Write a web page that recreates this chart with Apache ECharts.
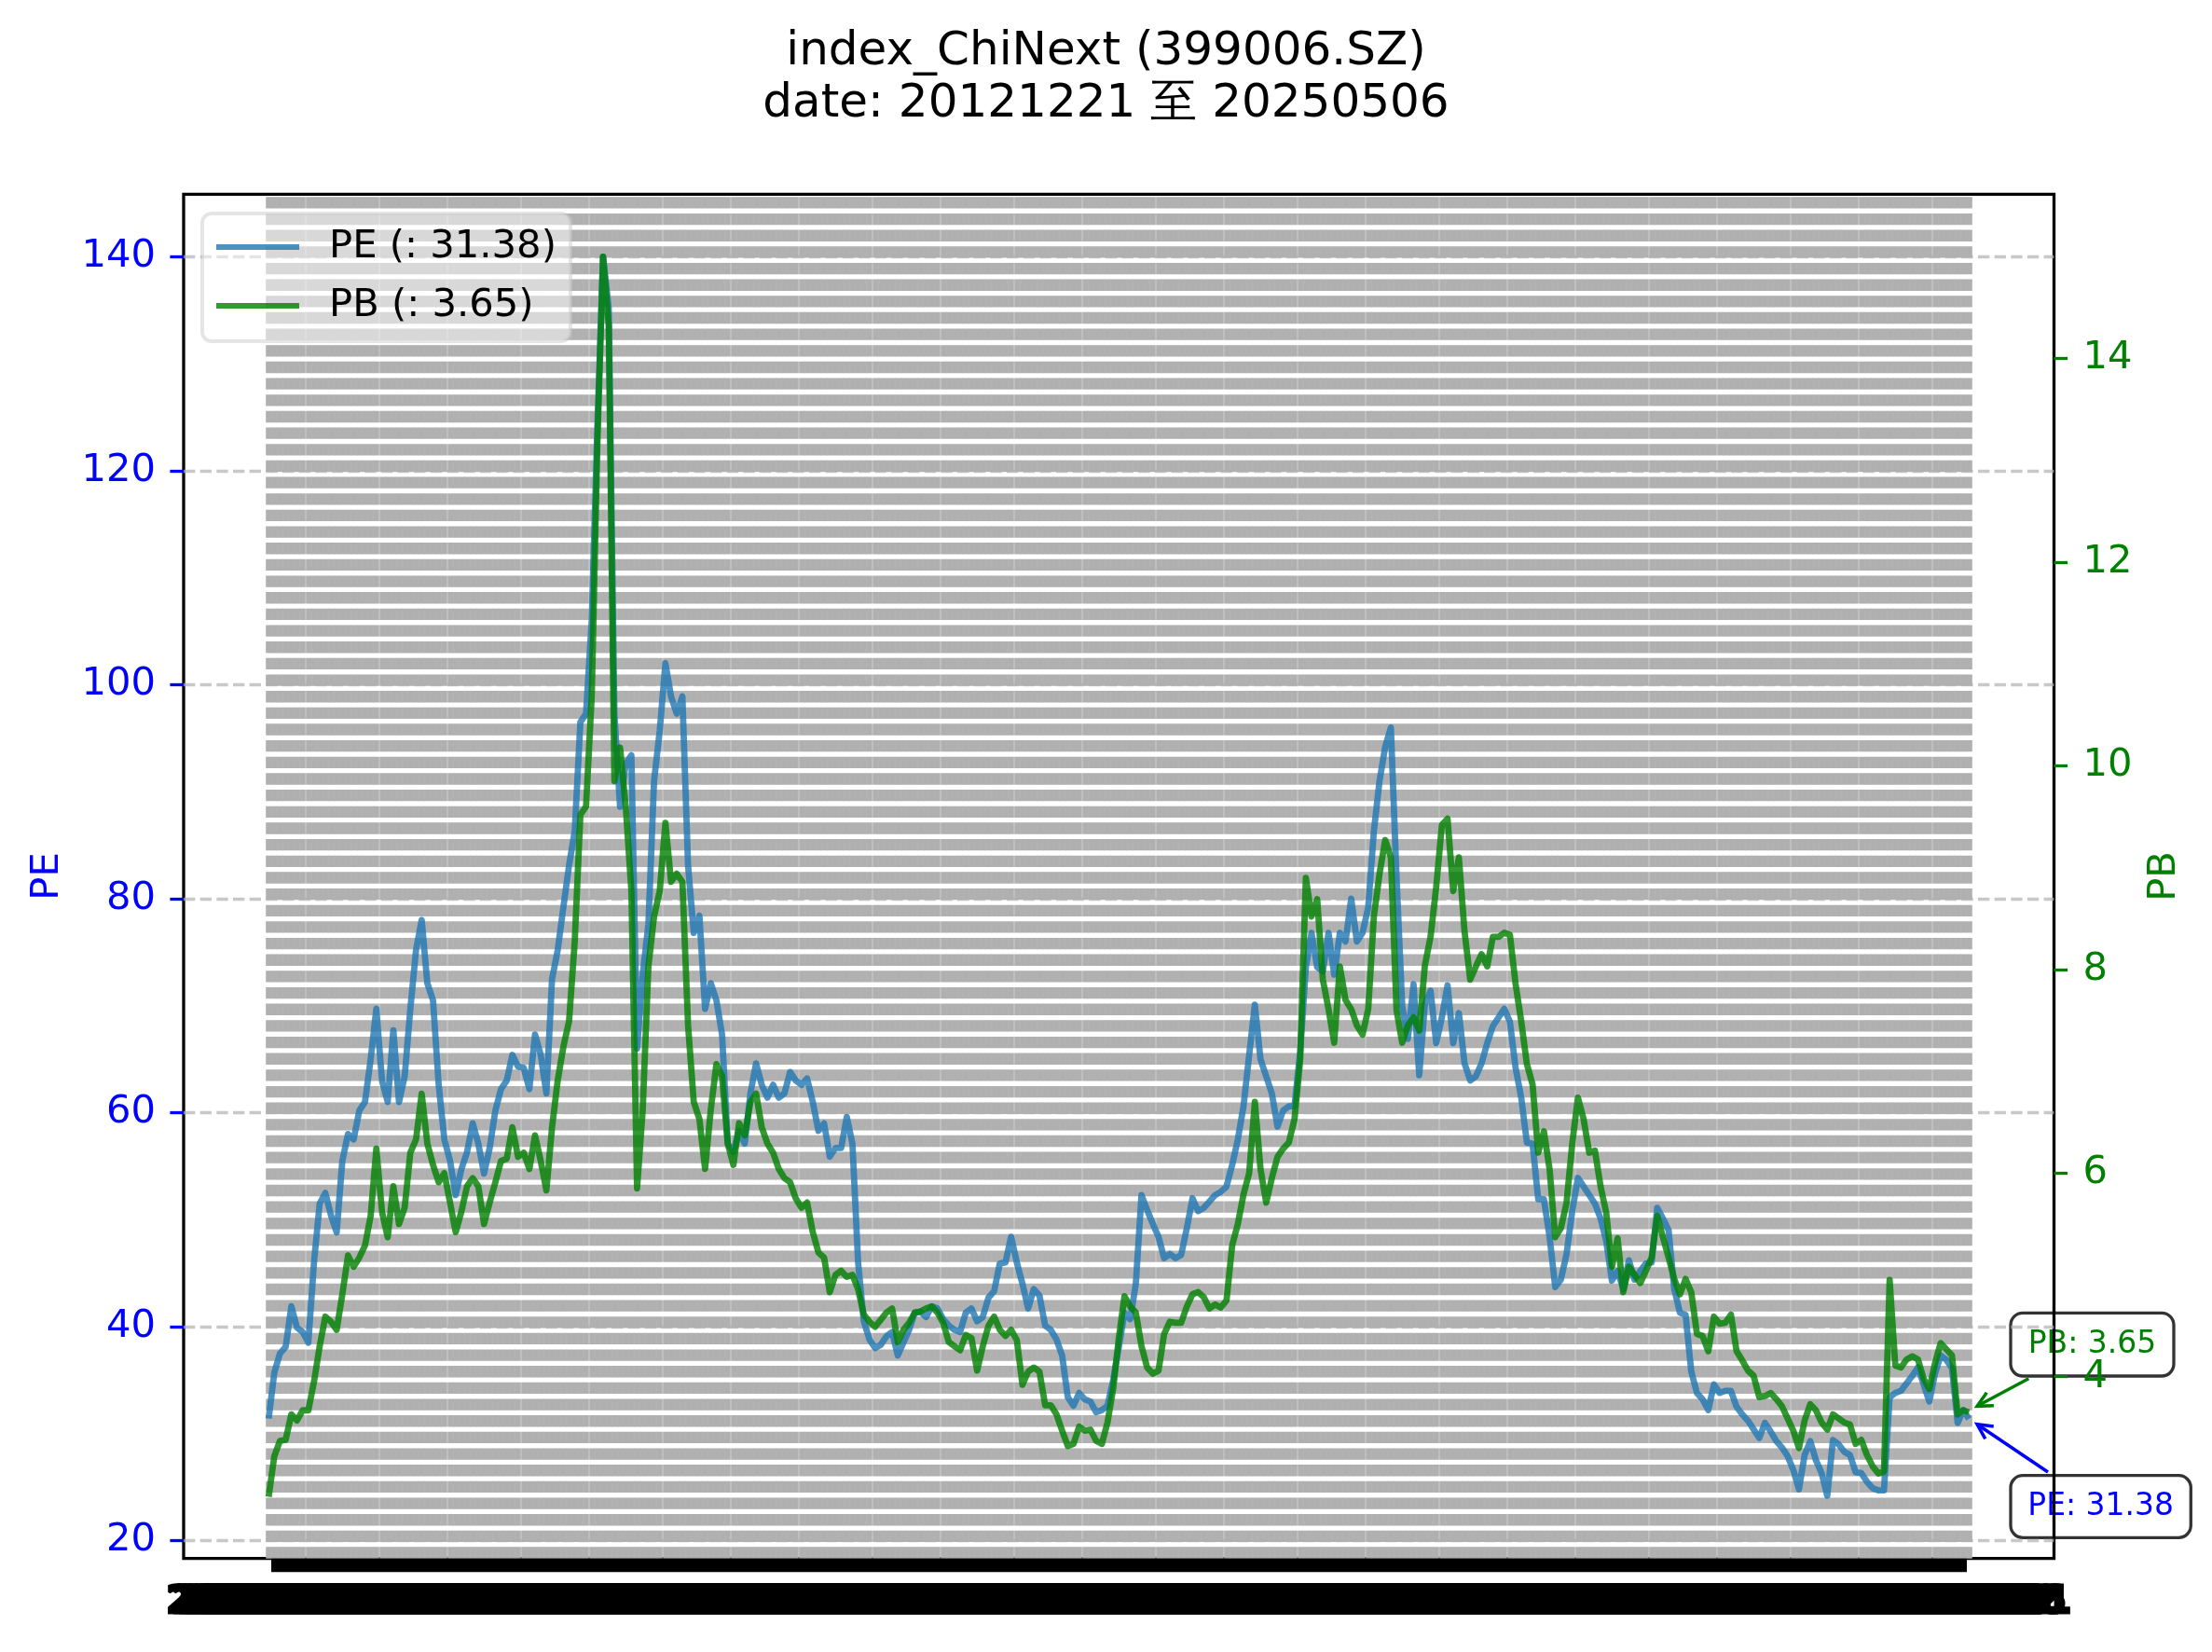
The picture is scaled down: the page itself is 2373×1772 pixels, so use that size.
<!DOCTYPE html>
<html><head><meta charset="utf-8">
<script src="https://cdn.jsdelivr.net/npm/echarts@6/dist/echarts.min.js"></script>
<style>html,body{margin:0;padding:0;background:#fff}#c{width:2373px;height:1772px}</style>
</head><body><div id="c"></div>
<script>
const titleText = 'index_ChiNext (399006.SZ)\ndate: 20121221 至 20250506';
const startDate = '20121221';
const endDate = '20250506';
const peName = 'PE (: 31.38)';
const pbName = 'PB (: 3.65)';
const peNote = 'PE: 31.38';
const pbNote = 'PB: 3.65';
const peTicks = [20, 40, 60, 80, 100, 120, 140];
const pbTicks = [4, 6, 8, 10, 12, 14];

const peValues = [
31.4,35.7,37.5,38.1,41.9,39.9,39.5,38.5,46.0,51.5,52.5,50.4,48.8,55.5,58.0,57.5,60.2,61.0,65.0,69.7,
63.0,61.0,67.7,61.0,63.4,69.7,75.2,78.0,72.1,70.5,62.6,57.5,55.5,52.3,54.7,56.3,59.0,57.1,54.3,56.7,
60.2,62.2,63.0,65.4,64.3,64.2,62.2,67.3,65.4,61.8,72.5,75.2,79.2,83.1,86.3,96.5,97.3,106.0,124.1,140.0,
135.2,97.3,88.6,92.6,93.4,66.0,72.9,77.6,91.0,95.7,102.0,98.9,97.3,98.9,83.1,76.8,78.4,69.7,72.1,70.5,
67.3,57.1,56.3,58.3,57.1,61.8,64.6,62.6,61.4,62.6,61.4,61.8,63.8,63.0,62.6,63.2,61.0,58.3,59.0,55.9,
56.7,56.7,59.6,57.1,46.0,40.5,38.8,38.0,38.3,39.1,39.5,37.3,38.5,39.7,41.3,41.4,40.9,41.9,41.7,40.7,
40.1,39.7,39.5,41.3,41.7,40.5,40.9,42.7,43.3,45.9,46.0,48.4,46.0,44.0,41.7,43.5,42.9,40.1,39.7,38.8,
37.3,33.4,32.6,33.8,33.2,33.0,32.0,32.2,32.6,35.0,38.1,41.3,40.7,44.0,52.3,50.9,49.6,48.4,46.4,46.8,
46.4,46.7,49.2,52.0,50.8,51.1,51.7,52.3,52.6,53.1,55.1,57.5,60.6,65.4,70.1,65.0,63.4,61.8,58.7,60.2,
60.6,60.6,65.7,73.6,76.8,73.6,73.2,76.8,72.9,76.8,76.0,80.0,76.0,76.8,79.2,86.3,91.0,94.2,96.0,82.0,
70.0,66.9,72.0,63.5,70.1,71.4,66.5,68.9,71.9,66.5,69.3,64.6,63.0,63.4,64.6,66.5,68.1,68.9,69.7,68.5,
64.2,61.4,57.2,57.1,51.9,51.9,48.4,43.7,44.4,46.8,50.8,53.9,53.1,52.3,51.5,50.1,48.0,44.3,45.2,43.5,
46.2,44.4,45.2,45.9,46.0,51.1,50.1,49.0,43.5,41.3,41.1,35.8,33.8,33.2,32.2,34.6,33.8,34.0,34.0,32.5,
31.8,31.2,30.4,29.6,31.0,30.2,29.3,28.7,27.9,26.6,24.8,28.0,29.3,27.5,26.3,24.2,29.4,29.0,28.3,28.0,
26.4,26.3,25.5,24.9,24.7,24.7,33.4,33.8,34.0,34.7,35.4,36.2,34.6,33.0,35.6,37.3,36.9,36.1,31.0,32.2,
31.38
];

const pbValues = [
2.82,3.22,3.37,3.38,3.63,3.57,3.67,3.67,3.95,4.30,4.59,4.54,4.46,4.81,5.19,5.08,5.17,5.29,5.58,6.24,
5.62,5.37,5.87,5.50,5.66,6.20,6.33,6.78,6.29,6.08,5.91,6.00,5.71,5.42,5.62,5.87,5.95,5.87,5.50,5.71,
5.91,6.12,6.14,6.45,6.16,6.20,6.04,6.37,6.12,5.83,6.45,6.91,7.24,7.49,8.27,9.52,9.60,10.68,13.17,15.0,
14.33,9.85,10.18,9.60,8.77,5.85,6.62,8.03,8.52,8.77,9.44,8.86,8.94,8.86,7.45,6.70,6.53,6.04,6.62,7.07,
6.95,6.29,6.08,6.49,6.37,6.70,6.78,6.45,6.29,6.20,6.04,5.95,5.91,5.75,5.66,5.71,5.42,5.22,5.17,4.83,
5.00,5.04,4.98,5.00,4.86,4.61,4.54,4.49,4.56,4.63,4.67,4.34,4.46,4.53,4.63,4.64,4.67,4.69,4.63,4.53,
4.34,4.30,4.26,4.41,4.38,4.06,4.30,4.50,4.59,4.46,4.40,4.46,4.36,3.92,4.05,4.09,4.05,3.72,3.72,3.63,
3.47,3.32,3.34,3.51,3.47,3.48,3.37,3.34,3.55,3.88,4.38,4.79,4.69,4.63,4.30,4.09,4.03,4.06,4.42,4.54,
4.53,4.53,4.69,4.81,4.83,4.78,4.67,4.71,4.68,4.75,5.29,5.50,5.79,6.00,6.70,6.04,5.71,5.95,6.16,6.24,
6.30,6.53,7.11,8.90,8.52,8.69,7.90,7.61,7.28,8.03,7.70,7.61,7.45,7.36,7.61,8.52,8.94,9.27,9.10,7.60,
7.28,7.45,7.53,7.40,8.04,8.32,8.81,9.42,9.48,8.77,9.10,8.37,7.90,8.03,8.15,8.03,8.32,8.32,8.36,8.34,
7.86,7.49,7.07,6.87,6.20,6.41,6.04,5.37,5.46,5.71,6.29,6.74,6.53,6.20,6.22,5.87,5.61,5.08,5.36,4.83,
5.08,5.00,4.92,5.04,5.17,5.58,5.37,5.17,4.96,4.81,4.96,4.83,4.42,4.40,4.25,4.59,4.52,4.53,4.61,4.25,
4.16,4.06,4.01,3.80,3.81,3.84,3.78,3.71,3.59,3.47,3.30,3.57,3.73,3.67,3.55,3.48,3.63,3.59,3.55,3.53,
3.34,3.38,3.23,3.12,3.05,3.07,4.95,4.11,4.09,4.17,4.20,4.17,3.98,3.88,4.13,4.33,4.27,4.21,3.63,3.67,
3.65
];

// ---- date categories between start and end (labels are drawn as an overlapping mass) ----
function parseD(s) { return Date.UTC(+s.slice(0, 4), +s.slice(4, 6) - 1, +s.slice(6, 8)); }
function fmtD(t) {
  const d = new Date(t);
  return d.getUTCFullYear() + String(d.getUTCMonth() + 1).padStart(2, '0') + String(d.getUTCDate()).padStart(2, '0');
}
const n = peValues.length;
const dates = [];
const t0 = parseD(startDate), t1 = parseD(endDate), DAY = 86400000;
for (let k = 0; k < n; k++) dates.push(fmtD(t0 + Math.round((t1 - t0) * k / (n - 1) / DAY) * DAY));

// matplotlib-like 5% x margins on a category axis
const pad = Math.round(0.05 * (n - 1));
const cats = [];
for (let k = 0; k < pad; k++) cats.push('padL' + k);
dates.forEach(d => cats.push(d));
for (let k = 0; k < pad; k++) cats.push('padR' + k);
const blanks = new Array(pad).fill('-');
const peData = blanks.concat(peValues, blanks);
const pbData = blanks.concat(pbValues, blanks);
const isReal = (idx) => idx >= pad && idx < pad + n;

// layout
const W = 2373, H = 1772;
const gTop = 208.3, gBottom = 100.3, gLeft = 197, gRight = 169.5;
const gH = H - gTop - gBottom;
const dashOn = 12.33, dashOff = 5.33, P = dashOn + dashOff;
const vOffset = P - ((gH + dashOff) % P);
const FONT = 'DejaVu Sans';
const FS = 41.7;

const chart = echarts.init(document.getElementById('c'), null, { renderer: 'canvas', width: W, height: H });

const option = {
  animation: false,
  backgroundColor: '#ffffff',
  textStyle: { fontFamily: FONT },
  title: {
    text: titleText,
    left: 'center',
    top: 28,
    padding: 0,
    textStyle: { fontFamily: FONT, fontSize: 50, fontWeight: 'normal', color: '#000', lineHeight: 56 }
  },
  legend: {
    orient: 'vertical',
    left: 217, top: 229,
    itemWidth: 89, itemHeight: 6, itemGap: 21,
    padding: [15, 15, 17, 15],
    backgroundColor: 'rgba(255,255,255,0.5)',
    borderColor: 'rgba(204,204,204,0.5)',
    borderWidth: 4,
    borderRadius: 10,
    textStyle: { fontFamily: FONT, fontSize: FS, lineHeight: 42, color: '#000', padding: [0, 0, 0, 27] },
    data: [
      { name: peName, icon: 'rect', itemStyle: { color: 'rgba(31,119,180,0.8)' } },
      { name: pbName, icon: 'rect', itemStyle: { color: 'rgba(0,128,0,0.8)' } }
    ]
  },
  grid: {
    show: true, left: gLeft, right: gRight, top: gTop, bottom: gBottom,
    containLabel: false, outerBoundsMode: 'none',
    borderColor: '#000', borderWidth: 3.3, backgroundColor: 'transparent'
  },
  xAxis: {
    type: 'category',
    data: cats,
    boundaryGap: false,
    axisLine: { show: false },
    axisTick: { show: true, interval: (i) => isReal(i), length: 14.6, lineStyle: { color: '#000', width: 8 } },
    axisLabel: {
      show: true, interval: (i) => isReal(i), margin: 26, hideOverlap: false,
      fontFamily: FONT, fontSize: FS, fontWeight: 'bold', color: '#000',
      textBorderColor: '#000', textBorderWidth: 3
    },
    splitLine: {
      show: true, interval: (i) => isReal(i),
      lineStyle: { color: '#b0b0b0', width: 6.6, type: [dashOn, dashOff], dashOffset: vOffset }
    }
  },
  yAxis: [
    {
      type: 'value', position: 'left',
      min: 18.327, max: 145.85, splitNumber: 6,
      name: 'PE', nameLocation: 'middle', nameGap: 125, nameRotate: 90,
      nameTextStyle: { fontFamily: FONT, fontSize: FS, color: '#0000ff' },
      axisLine: { show: false },
      axisTick: { show: true, length: 14.6, customValues: peTicks, lineStyle: { color: '#0000ff', width: 3.3 } },
      axisLabel: { show: true, customValues: peTicks, margin: 30, fontFamily: FONT, fontSize: FS, color: '#0000ff' },
      splitLine: { show: true, lineStyle: { color: 'rgba(176,176,176,0.7)', width: 3.3, type: [dashOn, dashOff] } }
    },
    {
      type: 'value', position: 'right',
      min: 2.2145, max: 15.614, splitNumber: 6,
      name: 'PB', nameLocation: 'middle', nameGap: 98, nameRotate: 90,
      nameTextStyle: { fontFamily: FONT, fontSize: FS, color: '#008000' },
      axisLine: { show: false },
      axisTick: { show: true, length: 14.6, customValues: pbTicks, lineStyle: { color: '#008000', width: 3.3 } },
      axisLabel: { show: true, customValues: pbTicks, margin: 31, fontFamily: FONT, fontSize: FS, color: '#008000' },
      splitLine: { show: false }
    }
  ],
  series: [
    {
      name: peName, type: 'line', yAxisIndex: 0, data: peData,
      symbol: 'none', showSymbol: false, z: 3,
      lineStyle: { color: '#1f77b4', width: 6.8, opacity: 0.8, join: 'round' },
      itemStyle: { color: '#1f77b4' }, emphasis: { disabled: true }
    },
    {
      name: pbName, type: 'line', yAxisIndex: 1, data: pbData,
      symbol: 'none', showSymbol: false, z: 4,
      lineStyle: { color: '#008000', width: 6.8, opacity: 0.8, join: 'round' },
      itemStyle: { color: '#008000' }, emphasis: { disabled: true }
    }
  ]
};
chart.setOption(option);

// ---- annotations anchored on the last data points (offsets like matplotlib 'offset points') ----
const lastIdx = pad + n - 1;
const pPE = chart.convertToPixel({ xAxisIndex: 0, yAxisIndex: 0 }, [lastIdx, peValues[n - 1]]);
const pPB = chart.convertToPixel({ xAxisIndex: 0, yAxisIndex: 1 }, [lastIdx, pbValues[n - 1]]);

function arrow(x1, y1, x2, y2, color) {
  const dx = x2 - x1, dy = y2 - y1, L = Math.hypot(dx, dy), ux = dx / L, uy = dy / L;
  const hl = 16, hw = 8;
  const bx = x2 - ux * hl, by = y2 - uy * hl;
  return [
    { type: 'line', z: -9, silent: true, shape: { x1, y1, x2, y2 }, style: { stroke: color, lineWidth: 3.5 } },
    { type: 'polyline', z: -9, silent: true,
      shape: { points: [[bx - uy * hw, by + ux * hw], [x2, y2], [bx + uy * hw, by - ux * hw]] },
      style: { stroke: color, lineWidth: 3.5, fill: null } }
  ];
}
function noteBox(px, py, dx, dy, w, h, text, color) {
  return [
    { type: 'rect', z: -10, silent: true, shape: { x: px + dx, y: py + dy, width: w, height: h, r: 13 },
      style: { fill: 'rgba(255,255,255,0.8)', stroke: 'rgba(0,0,0,0.8)', lineWidth: 3.3 } },
    { type: 'text', z: -9, silent: true, x: px + dx + w / 2, y: py + dy + h / 2,
      style: { text: text, fill: color, fontFamily: FONT, fontSize: 33, align: 'center', verticalAlign: 'middle' } }
  ];
}
const g = []
  .concat(noteBox(pPB[0], pPB[1], 44.7, -106.6, 175, 67.7, pbNote, '#008000'))
  .concat(arrow(pPB[0] + 64, pPB[1] - 36.2, pPB[0] + 8.7, pPB[1] - 6.6, '#008000'))
  .concat(noteBox(pPE[0], pPE[1], 44.7, 60.8, 193.3, 66.6, peNote, '#0000ff'))
  .concat(arrow(pPE[0] + 84.7, pPE[1] + 57.1, pPE[0] + 8.7, pPE[1] + 5.8, '#0000ff'));
chart.setOption({ graphic: { elements: g } });
</script>
</body></html>
